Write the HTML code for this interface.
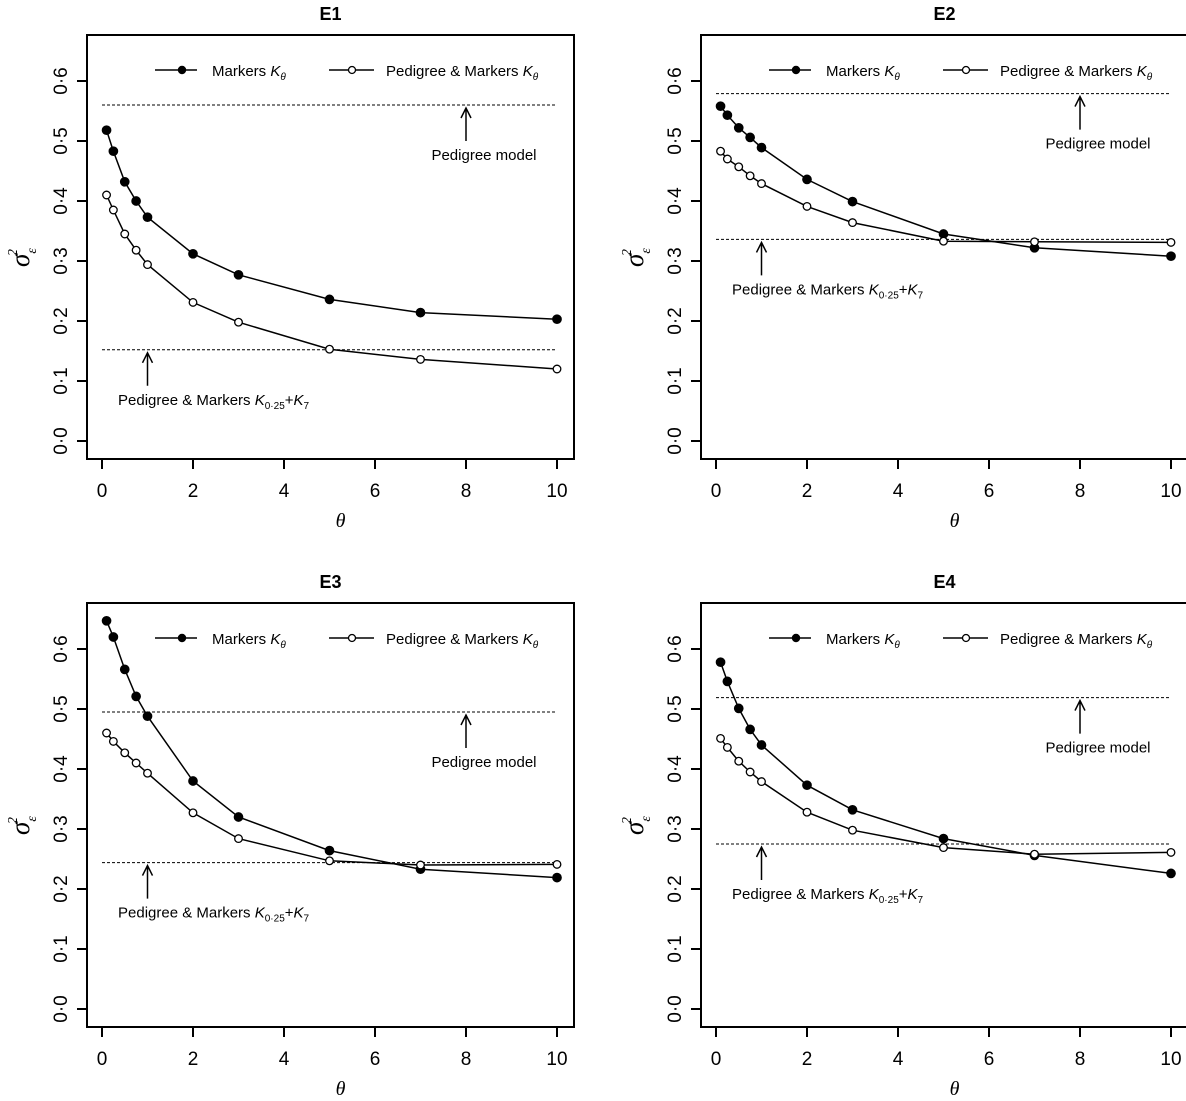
<!DOCTYPE html>
<html><head><meta charset="utf-8"><style>
html,body{margin:0;padding:0;background:#fff;}
svg{display:block;font-family:"Liberation Sans",Arial,sans-serif;}
</style></head><body>
<svg id="chart" width="1186" height="1101" viewBox="0 0 1186 1101" xmlns="http://www.w3.org/2000/svg"></svg>
<script>
const thetas = [0.1,0.25,0.5,0.75,1,2,3,5,7,10];
const panelNames = ["E1","E2","E3","E4"];
const markersE1 = [0.518,0.483,0.432,0.400,0.373,0.312,0.277,0.236,0.214,0.203];
const pedMarkE1 = [0.410,0.385,0.345,0.318,0.294,0.231,0.198,0.153,0.136,0.120];
const markersE2 = [0.558,0.543,0.522,0.506,0.489,0.436,0.399,0.345,0.322,0.308];
const pedMarkE2 = [0.483,0.470,0.457,0.442,0.429,0.391,0.364,0.333,0.332,0.331];
const markersE3 = [0.647,0.620,0.566,0.521,0.488,0.380,0.320,0.264,0.233,0.219];
const pedMarkE3 = [0.460,0.446,0.427,0.410,0.393,0.327,0.284,0.247,0.240,0.241];
const markersE4 = [0.578,0.546,0.501,0.466,0.440,0.373,0.332,0.284,0.256,0.226];
const pedMarkE4 = [0.451,0.436,0.413,0.395,0.379,0.328,0.298,0.269,0.258,0.261];
const pedigreeLevels = [0.560,0.579,0.495,0.519];
const comboLevels = [0.152,0.336,0.244,0.275];
const xTicks = [0,2,4,6,8,10];
const yTicks = [0,0.1,0.2,0.3,0.4,0.5,0.6];
const yTickLabels = ["0·0","0·1","0·2","0·3","0·4","0·5","0·6"];
const markersAll = [markersE1,markersE2,markersE3,markersE4];
const pedMarkAll = [pedMarkE1,pedMarkE2,pedMarkE3,pedMarkE4];

const NS="http://www.w3.org/2000/svg";
const svg=document.getElementById('chart');
function mk(tag,attrs,parent){const e=document.createElementNS(NS,tag);for(const k in attrs)e.setAttribute(k,attrs[k]);(parent||svg).appendChild(e);return e;}

const origins=[[87,35],[701,35],[87,603],[701,603]];
panelNames.forEach((name,p)=>{
  const [L,T]=origins[p];
  const W=487,H=424;
  const g=mk('g',{});
  
  
  const x=v=>L+15+45.5*v;
  const y=v=>T+406-600*v;
  const t=mk('text',{x:L+W/2,y:T-15,'text-anchor':'middle','font-size':18,'font-weight':'bold'},g);t.textContent=name;
  
  const box=mk('rect',{x:L,y:T,width:W,height:H,fill:'none',stroke:'#000','stroke-width':2},g);
  
  xTicks.forEach(v=>{
    mk('line',{x1:x(v),x2:x(v),y1:T+H,y2:T+H+10,stroke:'#000','stroke-width':2},g);
    const tl=mk('text',{x:x(v),y:T+H+38,'text-anchor':'middle','font-size':19},g);tl.textContent=v;
    
  });
  yTicks.forEach((v,i)=>{
    mk('line',{x1:L,x2:L-10,y1:y(v),y2:y(v),stroke:'#000','stroke-width':2},g);
    const tl=mk('text',{x:0,y:0,'text-anchor':'middle','font-size':19,transform:`translate(${L-20},${y(v)}) rotate(-90)`},g);tl.textContent=yTickLabels[i];
    
  });
  const xl=mk('text',{x:L+W/2+10,y:T+H+68,'text-anchor':'middle','font-size':20,'font-style':'italic','font-family':'"Liberation Serif",serif'},g);xl.textContent='θ';
  
  const yl=mk('text',{x:0,y:0,'font-size':27,'font-style':'italic','font-family':'"Liberation Serif",serif',transform:`translate(${L-58},${T+232}) rotate(-90)`},g);
  yl.innerHTML='σ<tspan font-size="14" dy="7">ε</tspan><tspan font-size="14" dx="-8" dy="-19">2</tspan>';
  
  [[pedigreeLevels[p],'pedigree-model-line'],[comboLevels[p],'combo-model-line']].forEach(([v,n])=>{
    const l=mk('line',{x1:x(0),x2:x(10),y1:y(v),y2:y(v),stroke:'#000','stroke-width':1,'stroke-dasharray':'3,2'},g);
    
  });
  function arrow(xv,yv,label,tx,anchor,nm){
    const ax=x(xv),ay=y(yv)+3;
    mk('path',{d:`M${ax},${ay+33}L${ax},${ay}M${ax-5},${ay+10}L${ax},${ay}L${ax+5},${ay+10}`,fill:'none',stroke:'#000','stroke-width':1.5},g);
    const tt=mk('text',{x:tx,y:y(yv)+55,'text-anchor':anchor,'font-size':15},g);tt.innerHTML=label;
    
  }
  arrow(8,pedigreeLevels[p],'Pedigree model',x(8)+18,'middle','pedigree-model-annotation');
  arrow(1,comboLevels[p],'Pedigree &amp; Markers <tspan font-style="italic">K</tspan><tspan font-size="10" dy="4">0·25</tspan><tspan dy="-4">+</tspan><tspan font-style="italic">K</tspan><tspan font-size="10" dy="4">7</tspan>',L+31,'start','combo-model-annotation');
  [[markersAll[p],'#000','series-markers'],[pedMarkAll[p],'#fff','series-pedigree-markers']].forEach(([vals,fill,n])=>{
    const pl=mk('polyline',{points:vals.map((v,i)=>x(thetas[i])+','+y(v)).join(' '),fill:'none',stroke:'#000','stroke-width':1.5},g);
    
    vals.forEach((v,i)=>{
      const c=mk('circle',{cx:x(thetas[i]),cy:y(v),r:fill==='#000'?4.2:3.8,fill:fill,stroke:'#000','stroke-width':1.3},g);
      
    });
  });
  const ly=T+35;
  const lg=mk('g',{},g);
  
  mk('line',{x1:L+68,x2:L+110,y1:ly,y2:ly,stroke:'#000','stroke-width':1.5},lg);
  mk('circle',{cx:L+95,cy:ly,r:4.2,fill:'#000'},lg);
  const t1=mk('text',{x:L+125,y:ly+6,'font-size':15},lg);t1.innerHTML='Markers <tspan font-style="italic">K</tspan><tspan font-size="10" font-style="italic" dy="4">θ</tspan>';
  
  mk('line',{x1:L+242,x2:L+287,y1:ly,y2:ly,stroke:'#000','stroke-width':1.5},lg);
  mk('circle',{cx:L+265,cy:ly,r:3.5,fill:'#fff',stroke:'#000','stroke-width':1.3},lg);
  const t2=mk('text',{x:L+299,y:ly+6,'font-size':15},lg);t2.innerHTML='Pedigree &amp; Markers <tspan font-style="italic">K</tspan><tspan font-size="10" font-style="italic" dy="4">θ</tspan>';
  
});
</script>
</body></html>
